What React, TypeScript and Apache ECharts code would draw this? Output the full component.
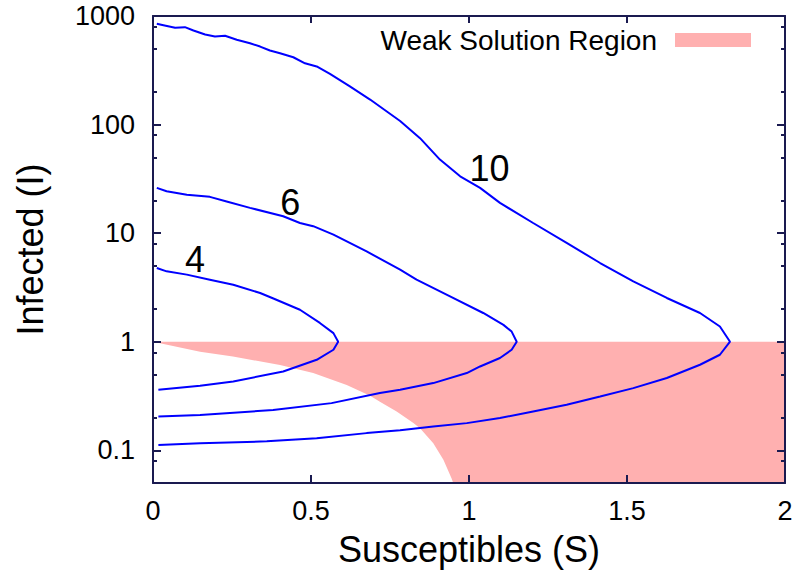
import React, { useEffect, useRef } from 'react';
import * as echarts from 'echarts';

// Axis ranges and ticks
const xRange = [0, 2];
const yRange = [0.05, 1000];
const xTickValues = [0, 0.5, 1, 1.5, 2];
const yMajorTicks = [0.1, 1, 10, 100, 1000];
const yMinorTicks = [0.08, 0.2, 0.5, 0.8, 2, 5, 8, 20, 50, 80, 200, 500, 800];

// Curve "4"
const curve4S = [0.012, 0.043, 0.107, 0.18, 0.254, 0.339, 0.381, 0.465, 0.528, 0.571, 0.586, 0.571, 0.518, 0.412, 0.254, 0.149, 0.017];
const curve4I = [4.78, 4.45, 4.15, 3.73, 3.35, 2.81, 2.5, 1.97, 1.49, 1.2, 1.0, 0.844, 0.682, 0.532, 0.431, 0.393, 0.361];

// Curve "6"
const curve6S = [0.012, 0.043, 0.107, 0.18, 0.233, 0.307, 0.412, 0.465, 0.507, 0.571, 0.676, 0.782, 0.834, 0.94, 1.045, 1.109, 1.135, 1.151, 1.135, 1.098, 1.035, 0.993, 0.887, 0.782, 0.718, 0.565, 0.38, 0.149, 0.017];
const curve6I = [26.1, 24.3, 22.6, 21.6, 19.6, 17.1, 14.3, 12.4, 11.6, 9.69, 6.79, 4.61, 3.73, 2.62, 1.84, 1.43, 1.24, 1.0, 0.844, 0.708, 0.592, 0.515, 0.416, 0.361, 0.337, 0.272, 0.235, 0.212, 0.205];

// Curve "10"
const curve10S = [0.012, 0.033, 0.07, 0.101, 0.128, 0.165, 0.196, 0.228, 0.265, 0.307, 0.339, 0.37, 0.402, 0.444, 0.481, 0.518, 0.56, 0.623, 0.687, 0.74, 0.782, 0.845, 0.908, 0.972, 1.035, 1.098, 1.203, 1.309, 1.415, 1.52, 1.626, 1.731, 1.794, 1.826, 1.794, 1.731, 1.626, 1.52, 1.415, 1.309, 1.203, 1.098, 0.993, 0.887, 0.782, 0.676, 0.518, 0.36, 0.149, 0.017];
const curve10I = [848, 822, 778, 789, 735, 675, 647, 657, 604, 561, 523, 481, 454, 417, 367, 343, 293, 225, 170, 132, 108, 75, 47.6, 33.4, 26.1, 19.0, 12.4, 8.13, 5.31, 3.6, 2.53, 1.84, 1.38, 1.0, 0.759, 0.614, 0.463, 0.374, 0.313, 0.263, 0.228, 0.198, 0.178, 0.166, 0.153, 0.144, 0.129, 0.121, 0.116, 0.112];

// Weak solution region (polygon vertices)
const regionS = [0, 2, 2, 0.95, 0.945, 0.919, 0.887, 0.845, 0.824, 0.771, 0.718, 0.687, 0.613, 0.507, 0.402, 0.253, 0.149, 0];
const regionI = [1, 1, 0.05, 0.05, 0.055, 0.0817, 0.116, 0.16, 0.178, 0.228, 0.28, 0.318, 0.4, 0.515, 0.61, 0.73, 0.81, 1];

// Curve labels
const labelTexts = ['4', '6', '10'];
const labelS = [0.133, 0.434, 1.065];
const labelI = [5.76, 19.1, 39.7];

const zip = (a: number[], b: number[]) => a.map((v, i) => [v, b[i]]);

const FONT = '"Liberation Sans", Arial, Helvetica, sans-serif';
const INK = '#1a1a50';

export default function App() {
  const ref = useRef<HTMLDivElement>(null);
  useEffect(() => {
    if (!ref.current) return;
    const chart = echarts.init(ref.current, undefined, { renderer: 'svg' });
    const regionData = zip(regionS, regionI);
    const isPow10 = (v: number) => {
      const l = Math.log10(v);
      return Math.abs(l - Math.round(l)) < 1e-6;
    };
    const mkLine = (show: boolean) => ({ show, onZero: false, lineStyle: { color: INK, width: 2 } });
    const mkTick = (len: number, vals: number[]) => ({
      show: true,
      inside: true,
      length: len,
      customValues: vals,
      lineStyle: { color: INK, width: 2 },
    });
    const yBase = () => ({
      type: 'log' as const,
      logBase: 10,
      min: yRange[0],
      max: yRange[1],
      splitLine: { show: false },
      z: 5,
    });
    const xBase = () => ({
      type: 'value' as const,
      min: xRange[0],
      max: xRange[1],
      interval: 0.5,
      splitLine: { show: false },
      z: 5,
    });
    chart.setOption({
      animation: false,
      backgroundColor: '#ffffff',
      textStyle: { fontFamily: FONT },
      grid: { left: 153, right: 15, top: 16, bottom: 96, containLabel: false },
      legend: {
        data: [{ name: 'Weak Solution Region', icon: 'rect' }],
        right: 44,
        top: 21,
        align: 'right',
        itemWidth: 76,
        itemHeight: 14,
        textStyle: { fontSize: 28, color: '#000', fontFamily: FONT, padding: [0, 13, 0, 0] },
        selectedMode: false,
      },
      xAxis: [
        {
          ...xBase(),
          position: 'bottom',
          name: 'Susceptibles (S)',
          nameLocation: 'middle',
          nameGap: 48,
          nameTextStyle: { fontSize: 36, color: '#000', fontFamily: FONT },
          axisLine: mkLine(true),
          axisTick: mkTick(8, xTickValues),
          axisLabel: { show: true, fontSize: 27, color: '#000', margin: 14, fontFamily: FONT },
        },
        {
          ...xBase(),
          position: 'top',
          axisLine: mkLine(true),
          axisTick: mkTick(7, xTickValues),
          axisLabel: { show: false },
        },
      ],
      yAxis: [
        {
          ...yBase(),
          position: 'left',
          name: 'Infected (I)',
          nameLocation: 'middle',
          nameGap: 105,
          nameTextStyle: { fontSize: 36, color: '#000', fontFamily: FONT },
          axisLine: mkLine(true),
          axisTick: mkTick(8, yMajorTicks),
          axisLabel: {
            show: true,
            fontSize: 27,
            color: '#000',
            margin: 18,
            fontFamily: FONT,
            customValues: yMajorTicks,
            formatter: (v: number) => (isPow10(v) ? String(+v.toPrecision(3)) : ''),
          },
        },
        {
          ...yBase(),
          position: 'left',
          axisLine: mkLine(false),
          axisTick: mkTick(4, yMinorTicks),
          axisLabel: { show: false },
        },
        {
          ...yBase(),
          position: 'right',
          axisLine: mkLine(true),
          axisTick: mkTick(8, yMajorTicks),
          axisLabel: { show: false },
        },
        {
          ...yBase(),
          position: 'right',
          axisLine: mkLine(false),
          axisTick: mkTick(4, yMinorTicks),
          axisLabel: { show: false },
        },
      ],
      series: [
        {
          name: 'Weak Solution Region',
          type: 'custom',
          xAxisIndex: 0,
          yAxisIndex: 0,
          z: 1,
          silent: true,
          itemStyle: { color: '#ffb0b0' },
          data: regionData,
          renderItem: (params: any, api: any) => {
            if (params.dataIndex !== 0) return null;
            const pts = regionData.map((p) => api.coord(p));
            return {
              type: 'polygon',
              shape: { points: pts },
              style: { fill: '#ffb0b0' },
            };
          },
        },
        ...[
          zip(curve4S, curve4I),
          zip(curve6S, curve6I),
          zip(curve10S, curve10I),
        ].map((d, i) => ({
          name: 'curve' + labelTexts[i],
          type: 'line',
          xAxisIndex: 0,
          yAxisIndex: 0,
          z: 6,
          data: d,
          showSymbol: false,
          symbol: 'none',
          smooth: false,
          lineStyle: { color: '#0000ff', width: 2 },
          silent: true,
        })),
        {
          name: 'labels',
          type: 'scatter',
          xAxisIndex: 0,
          yAxisIndex: 0,
          z: 7,
          symbolSize: 0,
          silent: true,
          itemStyle: { opacity: 1 },
          data: labelTexts.map((t, i) => ({ name: t, value: [labelS[i], labelI[i]] })),
          label: {
            show: true,
            position: 'inside',
            formatter: (p: any) => p.name,
            fontSize: 36,
            color: '#000',
            opacity: 1,
            textBorderWidth: 0,
            fontFamily: FONT,
          },
        },
      ],
    });
    return () => chart.dispose();
  }, []);
  return (
    <div
      ref={ref}
      style={{ position: 'fixed', left: 0, top: 0, width: 800, height: 579, background: '#fff' }}
    />
  );
}
